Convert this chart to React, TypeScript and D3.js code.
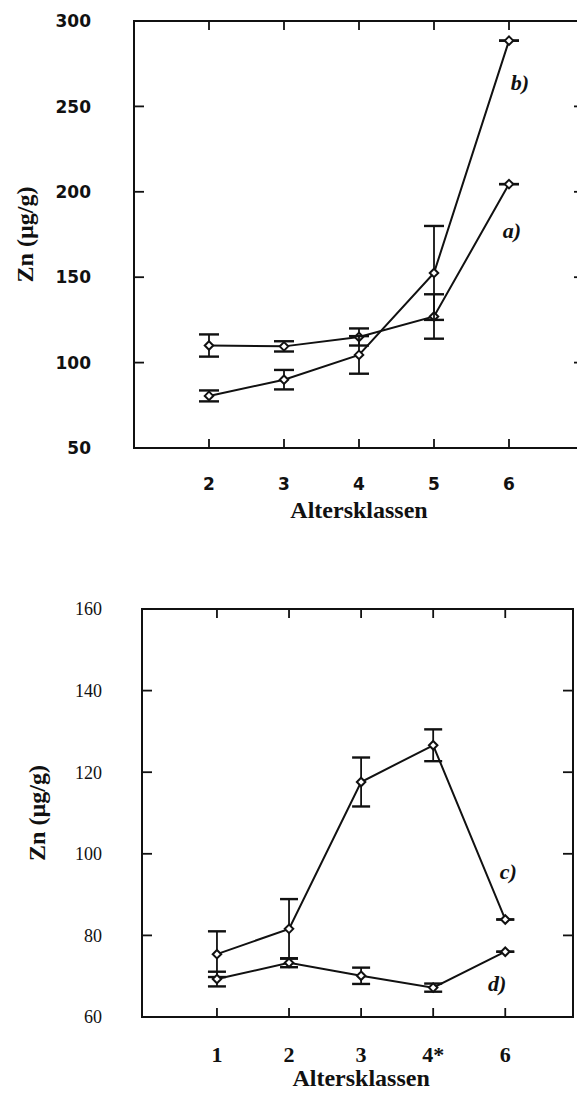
import React from "react";
import * as d3 from "d3";

// ---------- data ----------
const topCategories = [2, 3, 4, 5, 6];
const topTickLabels = ["2", "3", "4", "5", "6"];
const topYTicks = [50, 100, 150, 200, 250, 300];
const seriesA = [110, 109.5, 115, 127, 204.5];
const errA = [6.5, 3, 5, 13, 0];
const seriesB = [80.5, 90, 104.5, 152.5, 288.5];
const errB = [3.2, 5.7, 11, 27.5, 0];

const bottomPositions = [1, 2, 3, 4, 5];
const bottomTickLabels = ["1", "2", "3", "4*", "6"];
const bottomYTicks = [60, 80, 100, 120, 140, 160];
const seriesC = [75.4, 81.6, 117.6, 126.6, 83.9];
const errC = [5.6, 7.3, 6, 3.9, 0];
const seriesD = [69.3, 73.3, 70.1, 67.2, 76];
const errD = [1.8, 1.1, 2, 1, 0];

const W = 577;
const H = 1093;

type Series = { xs: number[]; ys: number[]; err: number[] };

function Panel(props: {
  x: d3.ScaleLinear<number, number>;
  y: d3.ScaleLinear<number, number>;
  xTicks: number[];
  xTickLabels: string[];
  yTicks: number[];
  series: Series[];
  capW: number;
  yTickFont: React.CSSProperties;
  xTickFont: React.CSSProperties;
  yLabelRight: number;
  xLabelY: number;
  titleY: number;
  yTitleX: number;
  notes: { text: string; x: number; y: number }[];
}) {
  const { x, y } = props;
  const [x0, x1] = x.range();
  const [y0, y1] = y.range(); // y0 bottom, y1 top
  const line = d3
    .line<[number, number]>()
    .x((d) => x(d[0]))
    .y((d) => y(d[1]));
  const marker = d3.symbol().type(d3.symbolDiamond2).size(46)();
  const tickLen = 10;
  const xTickLen = 9;
  return (
    <g>
      {/* frame */}
      <rect
        x={x0}
        y={y1}
        width={x1 - x0}
        height={y0 - y1}
        fill="none"
        stroke="#111"
        strokeWidth={2}
      />
      {/* y ticks */}
      {props.yTicks.map((t) => (
        <g key={"yt" + t}>
          <line x1={x0} x2={x0 + tickLen} y1={y(t)} y2={y(t)} stroke="#111" strokeWidth={1.8} />
          <line x1={x1} x2={x1 - tickLen} y1={y(t)} y2={y(t)} stroke="#111" strokeWidth={1.8} />
          <text
            x={props.yLabelRight}
            y={y(t)}
            dy="0.36em"
            textAnchor="end"
            style={props.yTickFont}
            fill="#111"
          >
            {t}
          </text>
        </g>
      ))}
      {/* x ticks */}
      {props.xTicks.map((t, i) => (
        <g key={"xt" + t}>
          <line x1={x(t)} x2={x(t)} y1={y0} y2={y0 - xTickLen} stroke="#111" strokeWidth={1.8} />
          <line x1={x(t)} x2={x(t)} y1={y1} y2={y1 + xTickLen} stroke="#111" strokeWidth={1.8} />
          <text
            x={x(t)}
            y={props.xLabelY}
            textAnchor="middle"
            style={props.xTickFont}
            fill="#111"
          >
            {props.xTickLabels[i]}
          </text>
        </g>
      ))}
      {/* series */}
      {props.series.map((s, si) => {
        const pts = s.xs.map((xv, i) => [xv, s.ys[i]] as [number, number]);
        return (
          <g key={"s" + si}>
            <path d={line(pts) || ""} fill="none" stroke="#111" strokeWidth={2} />
            {pts.map((p, i) => {
              const cx = x(p[0]);
              const yt = y(p[1] + s.err[i]);
              const yb = y(p[1] - s.err[i]);
              return (
                <g key={"e" + i}>
                  <line x1={cx} x2={cx} y1={yt} y2={yb} stroke="#111" strokeWidth={1.8} />
                  <line x1={cx - props.capW / 2} x2={cx + props.capW / 2} y1={yt} y2={yt} stroke="#111" strokeWidth={2.4} />
                  <line x1={cx - props.capW / 2} x2={cx + props.capW / 2} y1={yb} y2={yb} stroke="#111" strokeWidth={2.4} />
                </g>
              );
            })}
            {pts.map((p, i) => (
              <path
                key={"m" + i}
                d={marker || ""}
                transform={`translate(${x(p[0])},${y(p[1])})`}
                fill="#fff"
                stroke="#111"
                strokeWidth={2}
              />
            ))}
          </g>
        );
      })}
      {/* annotations */}
      {props.notes.map((n) => (
        <text
          key={n.text}
          x={n.x}
          y={n.y}
          dy="0.35em"
          textAnchor="middle"
          fill="#111"
          style={{
            fontFamily: "'Liberation Serif', 'Times New Roman', serif",
            fontStyle: "italic",
            fontWeight: 700,
            fontSize: 22,
          }}
        >
          {n.text}
        </text>
      ))}
      {/* axis titles */}
      <text
        x={(x(props.xTicks[0]) + x(props.xTicks[props.xTicks.length - 1])) / 2}
        y={props.titleY}
        textAnchor="middle"
        fill="#111"
        style={{
          fontFamily: "'Liberation Serif', 'Times New Roman', serif",
          fontWeight: 700,
          fontSize: 24,
        }}
      >
        Altersklassen
      </text>
      <text
        transform={`translate(${props.yTitleX},${(y0 + y1) / 2}) rotate(-90)`}
        textAnchor="middle"
        dy="0.35em"
        fill="#111"
        style={{
          fontFamily: "'Liberation Serif', 'Times New Roman', serif",
          fontWeight: 700,
          fontSize: 24,
        }}
      >
        Zn (µg/g)
      </text>
    </g>
  );
}

export default function App() {
  const xTop = d3.scaleLinear().domain([1, 7]).range([134, 584]);
  const yTop = d3.scaleLinear().domain([50, 300]).range([448, 21]);
  const xBot = d3.scaleLinear().domain([-0.04, 5.94]).range([142, 573]);
  const yBot = d3.scaleLinear().domain([60, 160]).range([1017, 609]);

  const sansTick: React.CSSProperties = {
    fontFamily: "'DejaVu Sans', sans-serif",
    fontWeight: 700,
    fontSize: 17,
  };
  const serifTickY: React.CSSProperties = {
    fontFamily: "'Liberation Serif', 'Times New Roman', serif",
    fontWeight: 400,
    fontSize: 18,
  };
  const serifTickX: React.CSSProperties = {
    fontFamily: "'Liberation Serif', 'Times New Roman', serif",
    fontWeight: 700,
    fontSize: 22,
  };

  return (
    <svg
      width={W}
      height={H}
      viewBox={`0 0 ${W} ${H}`}
      style={{ position: "absolute", left: 0, top: 0, background: "#fff", overflow: "hidden" }}
    >
      <rect x={0} y={0} width={W} height={H} fill="#fff" />
      <Panel
        x={xTop}
        y={yTop}
        xTicks={topCategories}
        xTickLabels={topTickLabels}
        yTicks={topYTicks}
        series={[
          { xs: topCategories, ys: seriesA, err: errA },
          { xs: topCategories, ys: seriesB, err: errB },
        ]}
        capW={20}
        yTickFont={sansTick}
        xTickFont={sansTick}
        yLabelRight={91}
        xLabelY={490}
        titleY={518}
        yTitleX={25}
        notes={[
          { text: "b)", x: xTop(6) + 11, y: yTop(264) },
          { text: "a)", x: xTop(6) + 3, y: yTop(177.6) },
        ]}
      />
      <Panel
        x={xBot}
        y={yBot}
        xTicks={bottomPositions}
        xTickLabels={bottomTickLabels}
        yTicks={bottomYTicks}
        series={[
          { xs: bottomPositions, ys: seriesC, err: errC },
          { xs: bottomPositions, ys: seriesD, err: errD },
        ]}
        capW={18}
        yTickFont={serifTickY}
        xTickFont={serifTickX}
        yLabelRight={102}
        xLabelY={1062}
        titleY={1086}
        yTitleX={37}
        notes={[
          { text: "c)", x: xBot(5) + 3, y: yBot(95.8) },
          { text: "d)", x: xBot(5) - 8, y: yBot(68.3) },
        ]}
      />
    </svg>
  );
}
